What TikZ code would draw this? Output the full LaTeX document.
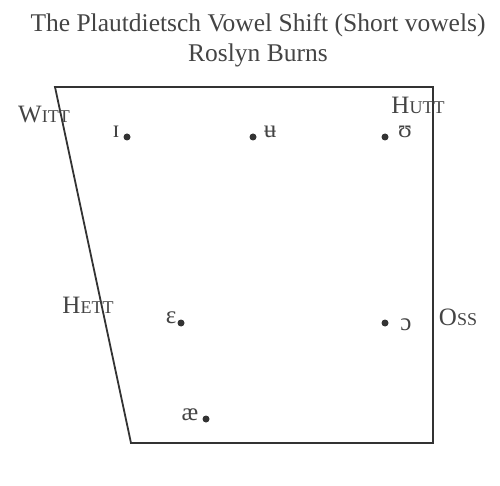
\documentclass[tikz,border=0pt]{standalone}
\usepackage{fontspec}
\setmainfont{Liberation Serif}
\usetikzlibrary{positioning}
\definecolor{ink}{HTML}{333333}
\definecolor{txt}{HTML}{444444}
\newcommand{\fakesc}[2]{{\fontsize{25}{25}\selectfont #1}{\fontsize{18}{18}\selectfont #2}}
\tikzset{
  vowel/.style = {circle, fill = ink, inner sep = 0pt, minimum size = 7pt},
  sym/.style = {text = txt, inner sep = 0pt, anchor = base, font = \fontsize{25}{25}\selectfont},
  word/.style = {text = txt, inner sep = 0pt, anchor = base},
}
\begin{document}
\begin{tikzpicture}[x = 1pt, y = 1pt]
      \useasboundingbox (0, 0) rectangle (500, 485);
      \node [word, font = \fontsize{25.5}{25.5}\selectfont] (title) at (258, 453) {The Plautdietsch Vowel Shift (Short vowels)};
      \node [word, font = \fontsize{25.5}{25.5}\selectfont] (author) at (258, 423) {Roslyn Burns};
      % the trapezoid
      \coordinate (tl) at (55, 398);
      \coordinate (tr) at (433, 398);
      \coordinate (br) at (433, 42);
      \coordinate (bl) at (131, 42);
      \draw [ink, line width = 1.8pt] (tl) -- (tr) -- (br) -- (bl) -- cycle;
      % the vowels
      \node [vowel] (i) at (127, 348) {};
      \node [vowel] (u) at (253, 348) {};
      \node [vowel] (o) at (385, 348) {};
      \node [vowel] (e) at (181, 162) {};
      \node [vowel] (c) at (385, 162) {};
      \node [vowel] (ae) at (206, 66) {};
      \node [sym] (i-sym) at (116, 347) {ɪ};
      \node [sym] (u-sym) at (270, 347) {ʉ};
      \node [sym] (o-sym) at (405, 347) {ʊ};
      \node [sym] (e-sym) at (171, 162) {ɛ};
      \node [sym] (c-sym) at (406, 155) {ɔ};
      \node [sym] (ae-sym) at (190, 65) {æ};
      % the words
      \node [word] (witt) at (44, 362) {\fakesc{W}{ITT}};
      \node [word] (hutt) at (418, 371) {\fakesc{H}{UTT}};
      \node [word] (hett) at (88, 172) {\fakesc{H}{ETT}};
      \node [word] (oss) at (458, 160) {\fakesc{O}{SS}};
    \end{tikzpicture}
\end{document}
